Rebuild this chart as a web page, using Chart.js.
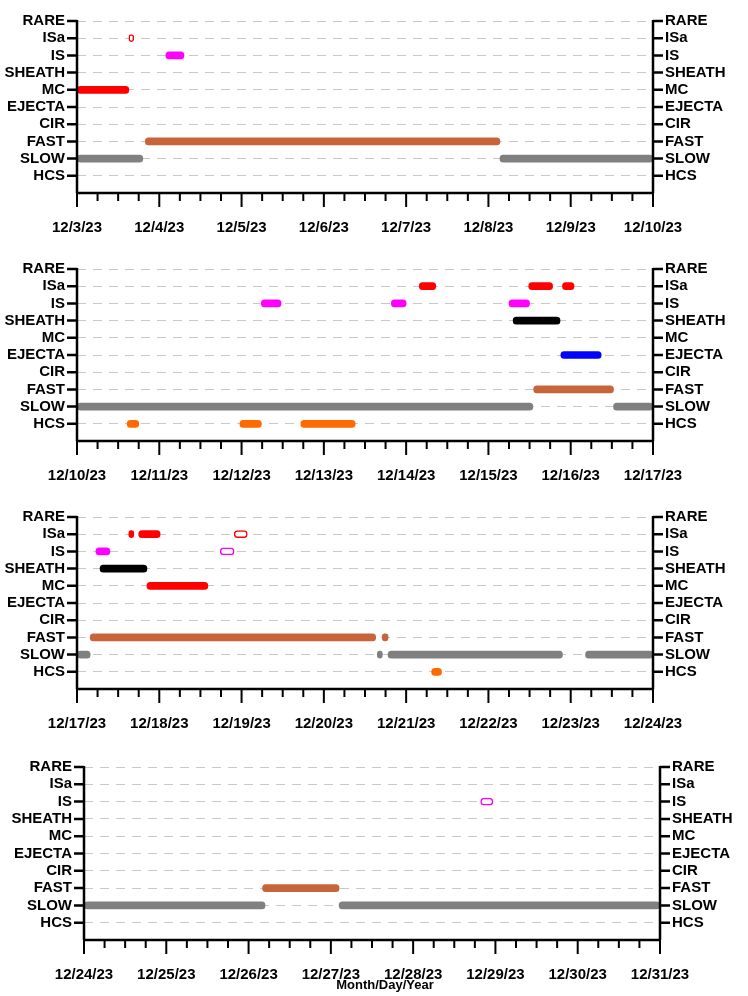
<!DOCTYPE html>
<html><head><meta charset="utf-8">
<script src="https://cdn.jsdelivr.net/npm/chart.js@4/dist/chart.umd.min.js"></script>
<style>
body{margin:0;background:#fff;width:748px;height:996px;position:relative;overflow:hidden;font-family:"Liberation Sans",Arial,sans-serif}
.p{position:absolute;left:0;width:748px}
#xt{position:absolute;top:977px;left:0;width:748px;text-align:center;font:bold 13px "Liberation Sans",Arial,sans-serif;padding-left:22px;box-sizing:border-box}
</style></head><body>
<div class="p" style="top:0;height:248px"><canvas id="c0"></canvas></div>
<div class="p" style="top:248px;height:248px"><canvas id="c1"></canvas></div>
<div class="p" style="top:496px;height:248px"><canvas id="c2"></canvas></div>
<div class="p" style="top:746px;height:236px"><canvas id="c3"></canvas></div>
<div id="xt">Month/Day/Year</div>
<script>
// Category levels (y value) top to bottom
const categories = ['RARE','ISa','IS','SHEATH','MC','EJECTA','CIR','FAST','SLOW','HCS'];
// Tick labels per panel (day offsets 0..7)
const ticks0 = ['12/3/23','12/4/23','12/5/23','12/6/23','12/7/23','12/8/23','12/9/23','12/10/23'];
const ticks1 = ['12/10/23','12/11/23','12/12/23','12/13/23','12/14/23','12/15/23','12/16/23','12/17/23'];
const ticks2 = ['12/17/23','12/18/23','12/19/23','12/20/23','12/21/23','12/22/23','12/23/23','12/24/23'];
const ticks3 = ['12/24/23','12/25/23','12/26/23','12/27/23','12/28/23','12/29/23','12/30/23','12/31/23'];
// Intervals [startDay, endDay] relative to first tick of each panel
// Panel 0
const p0_ISa_open = [[0.63,0.69]];
const p0_IS = [[1.08,1.30]];
const p0_MC = [[0,0.63]];
const p0_FAST = [[0.83,5.14]];
const p0_SLOW = [[0,0.80],[5.14,7.0]];
// Panel 1
const p1_ISa = [[4.16,4.36],[5.49,5.78],[5.90,6.04]];
const p1_IS = [[2.24,2.48],[3.82,4.00],[5.25,5.50]];
const p1_SHEATH = [[5.30,5.87]];
const p1_EJECTA = [[5.88,6.37]];
const p1_FAST = [[5.55,6.52]];
const p1_SLOW = [[0,5.54],[6.52,7.0]];
const p1_HCS = [[0.61,0.75],[1.98,2.24],[2.72,3.38]];
// Panel 2
const p2_ISa = [[0.63,0.69],[0.75,1.01]];
const p2_ISa_open = [[1.91,2.07]];
const p2_IS = [[0.23,0.40]];
const p2_IS_open = [[1.74,1.91]];
const p2_SHEATH = [[0.28,0.85]];
const p2_MC = [[0.85,1.59]];
const p2_FAST = [[0.16,3.63],[3.71,3.78]];
const p2_SLOW = [[0,0.16],[3.65,3.71],[3.78,5.90],[6.18,7.0]];
const p2_HCS = [[4.31,4.43]];
// Panel 3
const p3_IS_open = [[4.82,4.97]];
const p3_FAST = [[2.17,3.10]];
const p3_SLOW = [[0,2.20],[3.10,7.0]];

const colors = {ISa:'#ff0000',IS:'#ff00ff',SHEATH:'#000000',MC:'#ff0000',EJECTA:'#0000ff',FAST:'#c8643a',SLOW:'#808080',HCS:'#ff6a00'};
const lvl = c => 10 - categories.indexOf(c);
const FONT = {family:'"Liberation Sans", Arial, sans-serif', size:15, weight:'bold'};

function ds(cat, arr, open){
  return {
    data: arr.map(a=>({x:a, y:lvl(cat)})),
    backgroundColor: open ? '#ffffff' : colors[cat],
    borderColor: colors[cat],
    borderWidth: open ? 1.5 : 0,
    borderRadius: 3.5, borderSkipped:false,
    barThickness: 7,
    grouped:false
  };
}

const ticksPlugin = {
  id:'tk',
  afterDraw(ch){
    const c=ch.ctx, a=ch.chartArea, x=ch.scales.x, y=ch.scales.y;
    c.save(); c.strokeStyle='#000'; c.lineWidth=2.5;
    c.beginPath();
    c.moveTo(a.left,a.top-1); c.lineTo(a.left,a.bottom);
    c.moveTo(a.right,a.top-1); c.lineTo(a.right,a.bottom);
    c.moveTo(a.left,a.bottom); c.lineTo(a.right,a.bottom);
    for(let v=1;v<=10;v++){
      const py=y.getPixelForValue(v);
      c.moveTo(a.left-10,py); c.lineTo(a.left,py);
      c.moveTo(a.right,py); c.lineTo(a.right+10,py);
    }
    c.stroke();
    c.lineWidth=2; c.beginPath();
    for(let q=0;q<=28;q++){
      const px=x.getPixelForValue(q/4);
      const len = q%4===0 ? 14 : 8;
      c.moveTo(px,a.bottom); c.lineTo(px,a.bottom+len);
    }
    c.stroke(); c.restore();
  }
};

function make(id, labels, datasets, leftW, rightW, bottomH){
  const yOpts = (pos,w)=>({
    position:pos, type:'linear', min:0, max:10, offset:false,
    afterBuildTicks:s=>{s.ticks=[1,2,3,4,5,6,7,8,9,10].map(v=>({value:v}));},
    afterFit:s=>{s.width=w;},
    ticks:{callback:v=>categories[10-v], font:FONT, color:'#000', padding:12, autoSkip:false},
    grid:{drawTicks:false, offset:false, drawOnChartArea:pos==='left', color:'#c8c8c8', lineWidth:1},
    border:{display:false, dash:[9,7]}
  });
  const y = yOpts('left',leftW);
  const y2 = yOpts('right',rightW);
  new Chart(document.getElementById(id),{
    type:'bar',
    data:{datasets},
    options:{
      indexAxis:'y', responsive:true, maintainAspectRatio:false, animation:false,
      layout:{padding:{top:-9,right:0,left:0,bottom:0}},
      plugins:{legend:{display:false},tooltip:{enabled:false}},
      scales:{
        x:{type:'linear',min:0,max:7, offset:false,
          afterBuildTicks:s=>{s.ticks=[0,1,2,3,4,5,6,7].map(v=>({value:v}));},
          afterFit:s=>{s.height=bottomH;},
          ticks:{callback:v=>labels[v], font:FONT, color:'#000', padding:18, maxRotation:0, autoSkip:false},
          grid:{display:false}, border:{display:false}},
        y, y2
      }
    },
    plugins:[ticksPlugin]
  });
}

make('c0', ticks0, [
  ds('ISa',p0_ISa_open,true), ds('IS',p0_IS), ds('MC',p0_MC), ds('FAST',p0_FAST), ds('SLOW',p0_SLOW)
], 77, 95, 55);
make('c1', ticks1, [
  ds('ISa',p1_ISa), ds('IS',p1_IS), ds('SHEATH',p1_SHEATH), ds('EJECTA',p1_EJECTA),
  ds('FAST',p1_FAST), ds('SLOW',p1_SLOW), ds('HCS',p1_HCS)
], 77, 95, 55);
make('c2', ticks2, [
  ds('ISa',p2_ISa), ds('ISa',p2_ISa_open,true), ds('IS',p2_IS), ds('IS',p2_IS_open,true),
  ds('SHEATH',p2_SHEATH), ds('MC',p2_MC), ds('FAST',p2_FAST), ds('SLOW',p2_SLOW), ds('HCS',p2_HCS)
], 77, 95, 55);
make('c3', ticks3, [
  ds('IS',p3_IS_open,true), ds('FAST',p3_FAST), ds('SLOW',p3_SLOW)
], 84, 88, 42);
</script>
</body></html>
